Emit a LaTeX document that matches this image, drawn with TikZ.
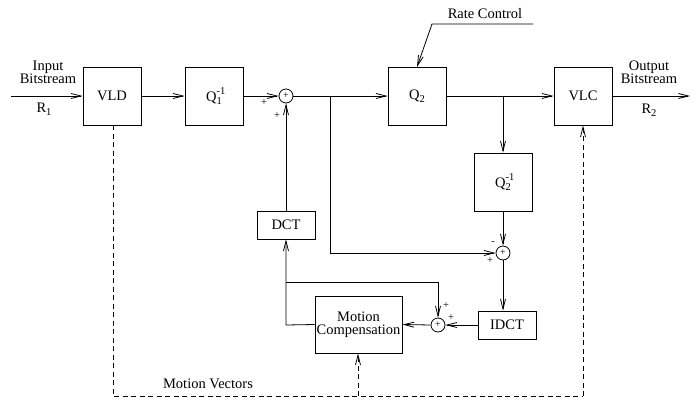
\documentclass[tikz,border=0pt]{standalone}
\usepackage{fontspec}
\setmainfont{Liberation Serif}
\usetikzlibrary{arrows.meta}
\newcommand{\Qsym}[2]{Q\rlap{\raisebox{1.0ex}{\fontsize{10.5}{10}\selectfont #2}}\raisebox{-0.45ex}{\fontsize{10.5}{10}\selectfont #1}}
\newcommand{\Rsym}[1]{R\raisebox{-0.45ex}{\fontsize{10.5}{10}\selectfont #1}}
\begin{document}
\begin{tikzpicture}[x=1pt,y=-1pt,
  font=\fontsize{14.5}{13}\selectfont,
  >={Straight Barb[length=10pt,width=5pt]},
  every path/.style={line width=0.8pt},
  blk/.style={draw, minimum width=58pt, minimum height=58pt, inner sep=0pt},
  sblk/.style={draw, minimum width=58pt, minimum height=28pt, inner sep=0pt},
  sumc/.style={draw, circle, minimum size=14pt, inner sep=0pt, font=\fontsize{10}{10}\selectfont},
  sgn/.style={font=\fontsize{10.5}{10}\selectfont, inner sep=0pt},
  lbl/.style={align=center, inner sep=0pt},
  dsh/.style={dashed, dash pattern=on 5pt off 3.5pt}]
\useasboundingbox (0,0) rectangle (695,399);
% blocks
\node[blk] (vld) at (112,96) {VLD};
\node[blk] (q1) at (214,96) {\Qsym{1}{-1}};
\node[blk] (q2) at (417,96) {\Qsym{2}{}};
\node[blk] (vlc) at (583,96) {VLC};
\node[blk] (q2i) at (503,182) {\Qsym{2}{-1}};
\node[sblk] (dct) at (286,225) {DCT};
\node[sblk] (idct) at (507,325) {IDCT};
\node[draw, minimum width=87pt, minimum height=57pt, inner sep=0pt, align=center] (mc) at (358.5,324.5) {Motion\\Compensation};
% summers
\node[sumc] (s1) at (286,96) {+};
\node[sumc] (s2) at (503,253) {+};
\node[sumc] (s3) at (438,325) {+};
% coordinates
\coordinate (in) at (11,96);
\coordinate (out) at (690,96);
\coordinate (rc0) at (533,24);
\coordinate (rc1) at (432,24);
\coordinate (t1) at (330,96);
\coordinate (t1b) at (330,253);
\coordinate (t2) at (503,96);
\coordinate (mcl) at (286,325);
\coordinate (fb) at (286,282);
\coordinate (fbr) at (438,282);
\coordinate (d1) at (113,396);
\coordinate (d2) at (583,396);
\coordinate (d3) at (358,396);
% labels
\node[lbl] at (48,72) {Input\\Bitstream};
\node[lbl] at (44,109) {\Rsym{1}};
\node[lbl] at (649,72) {Output\\Bitstream};
\node[lbl] at (649,110) {\Rsym{2}};
\node[lbl] at (485,14) {Rate Control};
\node[lbl] at (208,384) {Motion Vectors};
\node[sgn] at (264,103) {+};
\node[sgn] at (277,116) {+};
\node[sgn] at (493,243) {-};
\node[sgn] at (490,261) {+};
\node[sgn] at (446,306) {+};
\node[sgn] at (451,318) {+};
% connectors
\draw[->] (in) -- (vld.west);
\draw[->] (vld.east) -- (q1.west);
\draw[->] (q1.east) -- (s1.west);
\draw[->] (s1.east) -- (q2.west);
\draw[->] (q2.east) -- (vlc.west);
\draw[->] (vlc.east) -- (out);
\draw[->] (rc0) -- (rc1) -- (417,67);
\draw[->] (t2) -- (q2i.north -| t2);
\draw[->] (q2i.south -| s2) -- (s2.north);
\draw[->] (t1) -- (t1b) -- (s2.west);
\draw[->] (s2.south) -- (s2.south |- idct.north);
\draw[->] (idct.west) -- (s3.east);
\draw[->] (s3.west) -- (mc.east);
\draw[->] (mc.west) -- (mcl) -- (dct.south);
\draw[->] (dct.north) -- (s1.south);
\draw[->] (fb) -- (fbr) -- (s3.north);
\draw[dsh] (vld.south -| d1) -- (d1) -- (d2);
\draw[dsh,->] (d2) -- (vlc.south);
\draw[dsh,->] (d3) -- (mc.south -| d3);
\end{tikzpicture}
\end{document}
